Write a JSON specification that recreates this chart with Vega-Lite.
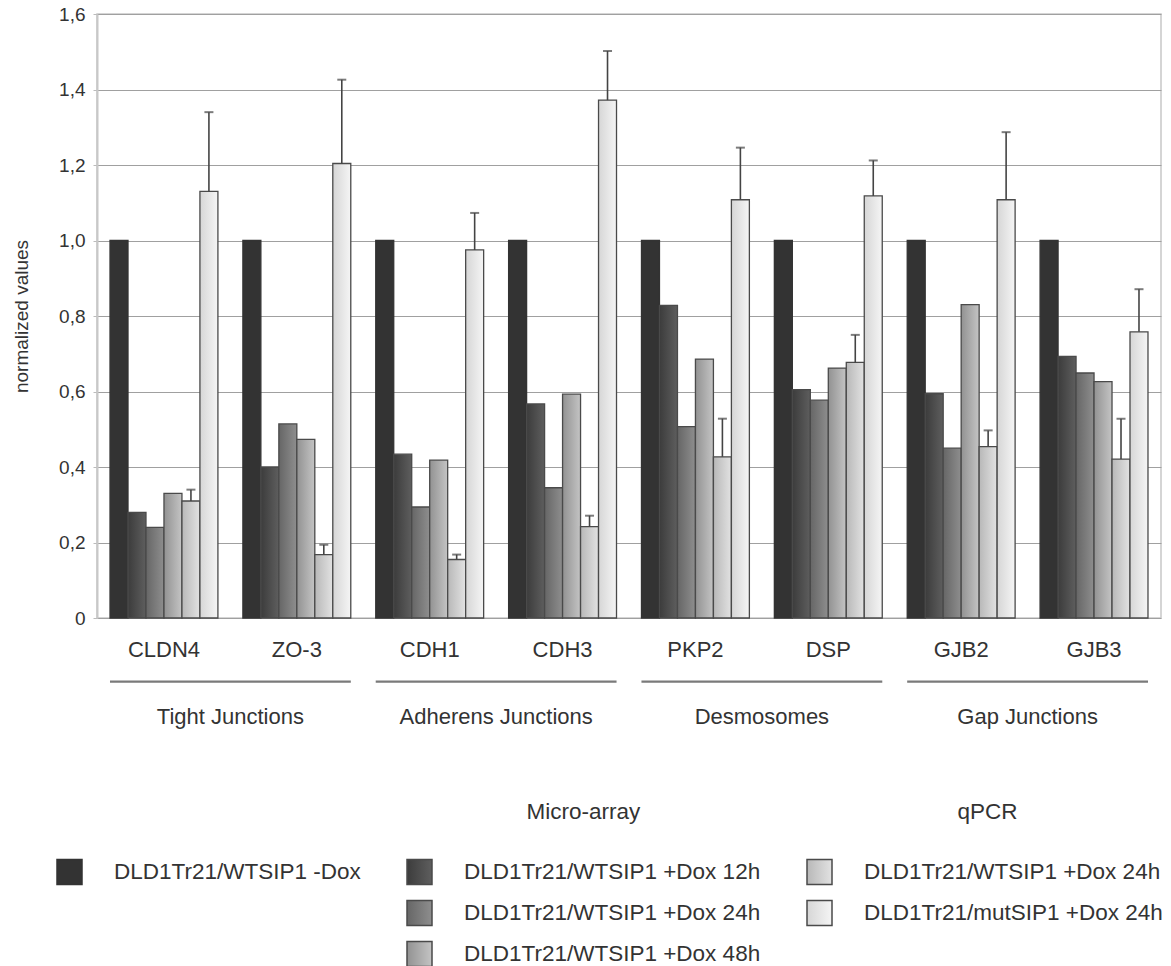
{
  "$schema": "https://vega.github.io/schema/vega-lite/v6.json",
  "width": 1064,
  "height": 604,
  "padding": {"left": 12, "top": 5, "right": 5, "bottom": 0},
  "config": {
    "font": "Liberation Sans",
    "view": {"stroke": "#c8c8c8", "strokeWidth": 1.5},
    "text": {"font": "Liberation Sans"}
  },
  "datasets": {
    "bars": [
      {"gene": "CLDN4", "platform": "Micro-array", "series": "neg", "value": 1.0, "hi": null},
      {"gene": "CLDN4", "platform": "Micro-array", "series": "m12", "value": 0.28, "hi": null},
      {"gene": "CLDN4", "platform": "Micro-array", "series": "m24", "value": 0.24, "hi": null},
      {"gene": "CLDN4", "platform": "Micro-array", "series": "m48", "value": 0.33, "hi": null},
      {"gene": "CLDN4", "platform": "qPCR", "series": "q24", "value": 0.31, "hi": 0.34},
      {"gene": "CLDN4", "platform": "qPCR", "series": "mut", "value": 1.13, "hi": 1.34},
      {"gene": "ZO-3", "platform": "Micro-array", "series": "neg", "value": 1.0, "hi": null},
      {"gene": "ZO-3", "platform": "Micro-array", "series": "m12", "value": 0.4, "hi": null},
      {"gene": "ZO-3", "platform": "Micro-array", "series": "m24", "value": 0.514, "hi": null},
      {"gene": "ZO-3", "platform": "Micro-array", "series": "m48", "value": 0.473, "hi": null},
      {"gene": "ZO-3", "platform": "qPCR", "series": "q24", "value": 0.168, "hi": 0.194},
      {"gene": "ZO-3", "platform": "qPCR", "series": "mut", "value": 1.204, "hi": 1.426},
      {"gene": "CDH1", "platform": "Micro-array", "series": "neg", "value": 1.0, "hi": null},
      {"gene": "CDH1", "platform": "Micro-array", "series": "m12", "value": 0.434, "hi": null},
      {"gene": "CDH1", "platform": "Micro-array", "series": "m24", "value": 0.294, "hi": null},
      {"gene": "CDH1", "platform": "Micro-array", "series": "m48", "value": 0.418, "hi": null},
      {"gene": "CDH1", "platform": "qPCR", "series": "q24", "value": 0.155, "hi": 0.168},
      {"gene": "CDH1", "platform": "qPCR", "series": "mut", "value": 0.975, "hi": 1.073},
      {"gene": "CDH3", "platform": "Micro-array", "series": "neg", "value": 1.0, "hi": null},
      {"gene": "CDH3", "platform": "Micro-array", "series": "m12", "value": 0.567, "hi": null},
      {"gene": "CDH3", "platform": "Micro-array", "series": "m24", "value": 0.345, "hi": null},
      {"gene": "CDH3", "platform": "Micro-array", "series": "m48", "value": 0.593, "hi": null},
      {"gene": "CDH3", "platform": "qPCR", "series": "q24", "value": 0.242, "hi": 0.271},
      {"gene": "CDH3", "platform": "qPCR", "series": "mut", "value": 1.372, "hi": 1.502},
      {"gene": "PKP2", "platform": "Micro-array", "series": "neg", "value": 1.0, "hi": null},
      {"gene": "PKP2", "platform": "Micro-array", "series": "m12", "value": 0.828, "hi": null},
      {"gene": "PKP2", "platform": "Micro-array", "series": "m24", "value": 0.507, "hi": null},
      {"gene": "PKP2", "platform": "Micro-array", "series": "m48", "value": 0.686, "hi": null},
      {"gene": "PKP2", "platform": "qPCR", "series": "q24", "value": 0.427, "hi": 0.528},
      {"gene": "PKP2", "platform": "qPCR", "series": "mut", "value": 1.108, "hi": 1.246},
      {"gene": "DSP", "platform": "Micro-array", "series": "neg", "value": 1.0, "hi": null},
      {"gene": "DSP", "platform": "Micro-array", "series": "m12", "value": 0.605, "hi": null},
      {"gene": "DSP", "platform": "Micro-array", "series": "m24", "value": 0.577, "hi": null},
      {"gene": "DSP", "platform": "Micro-array", "series": "m48", "value": 0.662, "hi": null},
      {"gene": "DSP", "platform": "qPCR", "series": "q24", "value": 0.677, "hi": 0.75},
      {"gene": "DSP", "platform": "qPCR", "series": "mut", "value": 1.118, "hi": 1.212},
      {"gene": "GJB2", "platform": "Micro-array", "series": "neg", "value": 1.0, "hi": null},
      {"gene": "GJB2", "platform": "Micro-array", "series": "m12", "value": 0.594, "hi": null},
      {"gene": "GJB2", "platform": "Micro-array", "series": "m24", "value": 0.45, "hi": null},
      {"gene": "GJB2", "platform": "Micro-array", "series": "m48", "value": 0.83, "hi": null},
      {"gene": "GJB2", "platform": "qPCR", "series": "q24", "value": 0.454, "hi": 0.497},
      {"gene": "GJB2", "platform": "qPCR", "series": "mut", "value": 1.108, "hi": 1.287},
      {"gene": "GJB3", "platform": "Micro-array", "series": "neg", "value": 1.0, "hi": null},
      {"gene": "GJB3", "platform": "Micro-array", "series": "m12", "value": 0.693, "hi": null},
      {"gene": "GJB3", "platform": "Micro-array", "series": "m24", "value": 0.649, "hi": null},
      {"gene": "GJB3", "platform": "Micro-array", "series": "m48", "value": 0.626, "hi": null},
      {"gene": "GJB3", "platform": "qPCR", "series": "q24", "value": 0.421, "hi": 0.528},
      {"gene": "GJB3", "platform": "qPCR", "series": "mut", "value": 0.758, "hi": 0.871}
    ],
    "groups": [
      {"group": "Tight Junctions"},
      {"group": "Adherens Junctions"},
      {"group": "Desmosomes"},
      {"group": "Gap Junctions"}
    ]
  },
  "resolve": {"scale": {"x": "independent", "y": "independent"}},
  "layer": [
    {
      "data": {"name": "bars"},
      "encoding": {
        "x": {
          "field": "gene", "type": "nominal", "sort": null,
          "scale": {"paddingInner": 0.188, "paddingOuter": 0.098},
          "axis": {"title": null, "domain": false, "ticks": false, "labelAngle": 0, "labelFontSize": 22, "labelColor": "#333", "labelPadding": 21}
        },
        "xOffset": {"field": "series", "type": "nominal", "scale": {"domain": ["neg", "m12", "m24", "m48", "q24", "mut"], "paddingInner": 0, "paddingOuter": 0}}
      },
      "layer": [
        {
          "mark": {"type": "bar", "strokeWidth": 1.3},
          "encoding": {
            "y": {
              "field": "value", "type": "quantitative",
              "scale": {"domain": [0, 1.6], "nice": false},
              "axis": {
                "title": "normalized values", "titleFontSize": 19, "titleFontWeight": "normal", "titleColor": "#333", "titlePadding": 27,
                "values": [0, 0.2, 0.4, 0.6, 0.8, 1.0, 1.2, 1.4, 1.6],
                "labelExpr": "datum.value == 0 ? '0' : replace(format(datum.value, '.1f'), '.', ',')",
                "labelFontSize": 19, "labelColor": "#333", "labelPadding": 8,
                "domainColor": "#c8c8c8", "domainWidth": 2, "tickColor": "#bbbbbb", "tickSize": 4,
                "gridColor": "#a0a0a0", "gridWidth": 1
              }
            },
            "opacity": {
              "field": "platform", "type": "nominal",
              "scale": {"domain": ["Micro-array", "qPCR"], "range": [1, 1]},
              "legend": {
                "orient": "none", "legendX": 407, "legendY": 787, "title": null, "direction": "horizontal", "columns": 2, "padding": 0,
                "symbolOpacity": 0, "symbolSize": 0, "symbolStrokeWidth": 0, "symbolFillColor": "transparent", "symbolStrokeColor": "transparent",
                "labelOffset": 0, "columnPadding": 294,
                "labelFontSize": 22.5, "labelColor": "#333", "labelLimit": 500
              }
            },
            "color": {
              "field": "series", "type": "nominal",
              "scale": {
                "domain": ["neg", "b1", "b2", "m12", "m24", "m48", "q24", "mut", "b3"],
                "range": [
                  "#333333", "transparent", "transparent",
                  {"expr": "{gradient: 'linear', x1: 0, y1: 0, x2: 1, y2: 0, stops: [{offset: 0, color: '#3c3c3c'}, {offset: 1, color: '#5e5e5e'}]}"},
                  {"expr": "{gradient: 'linear', x1: 0, y1: 0, x2: 1, y2: 0, stops: [{offset: 0, color: '#666666'}, {offset: 1, color: '#8e8e8e'}]}"},
                  {"expr": "{gradient: 'linear', x1: 0, y1: 0, x2: 1, y2: 0, stops: [{offset: 0, color: '#929292'}, {offset: 1, color: '#c4c4c4'}]}"},
                  {"expr": "{gradient: 'linear', x1: 0, y1: 0, x2: 1, y2: 0, stops: [{offset: 0, color: '#b8b8b8'}, {offset: 1, color: '#e2e2e2'}]}"},
                  {"expr": "{gradient: 'linear', x1: 0, y1: 0, x2: 1, y2: 0, stops: [{offset: 0, color: '#d6d6d6'}, {offset: 1, color: '#f5f5f5'}]}"},
                  "transparent"
                ]
              },
              "legend": {
                "orient": "none", "legendX": -41, "legendY": 844.5, "title": null, "columns": 3, "padding": 0,
                "symbolType": "square", "symbolSize": 625, "symbolStrokeWidth": 1.5, "symbolOpacity": 1,
                "labelFontSize": 22.5, "labelColor": "#333", "labelOffset": 31, "labelLimit": 500,
                "rowPadding": 10, "columnPadding": 43,
                "labelExpr": "datum.value == 'neg' ? 'DLD1Tr21/WTSIP1 -Dox' : datum.value == 'm12' ? 'DLD1Tr21/WTSIP1 +Dox 12h' : datum.value == 'm24' ? 'DLD1Tr21/WTSIP1 +Dox 24h' : datum.value == 'm48' ? 'DLD1Tr21/WTSIP1 +Dox 48h' : datum.value == 'q24' ? 'DLD1Tr21/WTSIP1 +Dox 24h' : datum.value == 'mut' ? 'DLD1Tr21/mutSIP1 +Dox 24h' : ''"
              }
            },
            "stroke": {
              "field": "series", "type": "nominal",
              "scale": {
                "domain": ["neg", "b1", "b2", "m12", "m24", "m48", "q24", "mut", "b3"],
                "range": ["#333333", "transparent", "transparent", "#4a4a4a", "#4a4a4a", "#4a4a4a", "#4a4a4a", "#4a4a4a", "transparent"]
              },
              "legend": {
                "orient": "none", "legendX": -41, "legendY": 844.5, "title": null, "columns": 3, "padding": 0,
                "symbolType": "square", "symbolSize": 625, "symbolStrokeWidth": 1.5, "symbolOpacity": 1,
                "labelFontSize": 22.5, "labelColor": "#333", "labelOffset": 31, "labelLimit": 500,
                "rowPadding": 10, "columnPadding": 43,
                "labelExpr": "datum.value == 'neg' ? 'DLD1Tr21/WTSIP1 -Dox' : datum.value == 'm12' ? 'DLD1Tr21/WTSIP1 +Dox 12h' : datum.value == 'm24' ? 'DLD1Tr21/WTSIP1 +Dox 24h' : datum.value == 'm48' ? 'DLD1Tr21/WTSIP1 +Dox 48h' : datum.value == 'q24' ? 'DLD1Tr21/WTSIP1 +Dox 24h' : datum.value == 'mut' ? 'DLD1Tr21/mutSIP1 +Dox 24h' : ''"
              }
            }
          }
        },
        {
          "transform": [{"filter": "datum.hi != null"}],
          "mark": {"type": "rule", "color": "#444444", "strokeWidth": 1.6},
          "encoding": {
            "y": {"field": "value", "type": "quantitative"},
            "y2": {"field": "hi"}
          }
        },
        {
          "transform": [{"filter": "datum.hi != null"}],
          "mark": {"type": "tick", "color": "#444444", "size": 9, "thickness": 2, "orient": "horizontal"},
          "encoding": {
            "y": {"field": "hi", "type": "quantitative"}
          }
        }
      ]
    },
    {
      "data": {"name": "groups"},
      "encoding": {
        "x": {
          "field": "group", "type": "nominal", "sort": null,
          "scale": {"paddingInner": 0.0937, "paddingOuter": 0.0489},
          "axis": null
        }
      },
      "layer": [
        {
          "mark": {"type": "bar", "color": "#7a7a7a"},
          "encoding": {
            "y": {"datum": -0.1655, "type": "quantitative", "scale": {"domain": [0, 1.6], "nice": false}, "axis": null},
            "y2": {"datum": -0.1715}
          }
        },
        {
          "mark": {"type": "text", "fontSize": 22, "color": "#333", "baseline": "alphabetic", "align": "center"},
          "encoding": {
            "text": {"field": "group"},
            "y": {"datum": -0.281, "type": "quantitative", "scale": {"domain": [0, 1.6], "nice": false}, "axis": null}
          }
        }
      ]
    }
  ]
}
